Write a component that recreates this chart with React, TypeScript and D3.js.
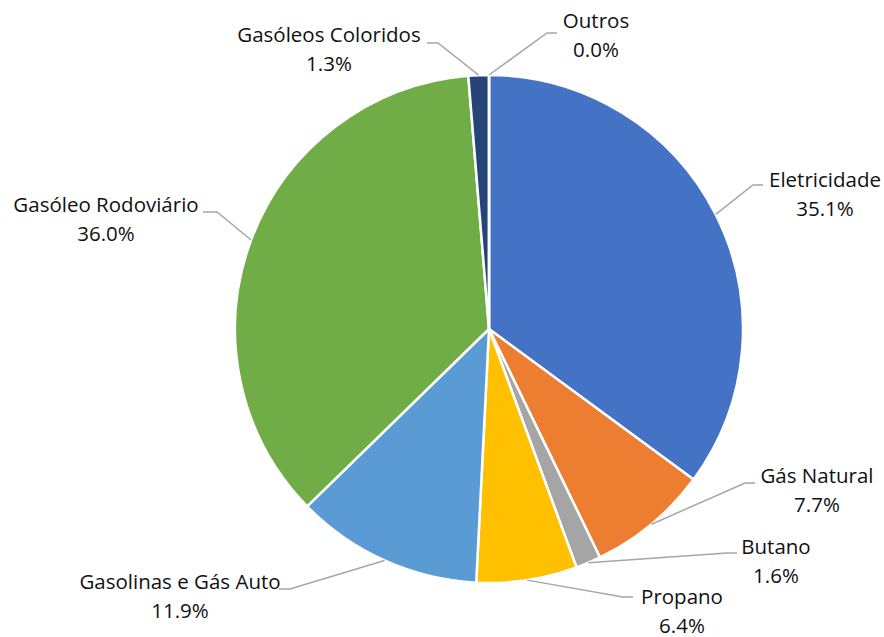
import React from 'react';
import * as d3 from 'd3';

// fuel categories and their share (%)
const categories = [
  'Eletricidade',
  'Gás Natural',
  'Butano',
  'Propano',
  'Gasolinas e Gás Auto',
  'Gasóleo Rodoviário',
  'Gasóleos Coloridos',
  'Outros',
];
const shares = [35.1, 7.7, 1.6, 6.4, 11.9, 36.0, 1.3, 0.0];
const colors = ['#4472C4', '#ED7D31', '#A5A5A5', '#FFC000', '#5B9BD5', '#70AD47', '#264478', '#9E480E'];

// label placement, relative to pie centre: text centre x, first baseline y,
// elbow x, end x, leader y
const labelLayout = [
  { tx: 336, ty: -142, ex: 264, lx: 274, ly: -144 },
  { tx: 328, ty: 154, ex: 256, lx: 266, ly: 154 },
  { tx: 287, ty: 225, ex: 238, lx: 248, ly: 224 },
  { tx: 193, ty: 275, ex: 134, lx: 144, ly: 268 },
  { tx: -309, ty: 260, ex: -199, lx: -210, ly: 260 },
  { tx: -383, ty: -117, ex: -272, lx: -286, ly: -117 },
  { tx: -160, ty: -287, ex: -51, lx: -62, ly: -286 },
  { tx: 107, ty: -301, ex: 58, lx: 68, ly: -296 },
];

const W = 884;
const H = 637;
const cx = 489;
const cy = 329;
const radius = 254;

export default function App() {
  const data = categories.map((c, i) => ({ name: c, value: shares[i], color: colors[i] }));
  const pie = d3.pie<any>().value(d => d.value).sort(null);
  const arcs = pie(data);
  const arc = d3.arc<any>().innerRadius(0).outerRadius(radius);

  return (
    <svg width={W} height={H} style={{ position: 'absolute', left: 0, top: 0, background: '#fff' }}
      fontFamily="'Open Sans', sans-serif" fontSize={20.5}>
      <g transform={`translate(${cx},${cy})`}>
        {arcs.map((a, i) => (
          <path key={i} d={arc(a) || ''} fill={a.data.color} stroke="#fff" strokeWidth={2.5} strokeLinejoin="round" />
        ))}
        {arcs.map((a, i) => {
          const mid = (a.startAngle + a.endAngle) / 2;
          const sx = radius * Math.sin(mid);
          const sy = -radius * Math.cos(mid);
          const L = labelLayout[i];
          return (
            <g key={'l' + i}>
              <polyline points={`${sx},${sy} ${L.ex},${L.ly} ${L.lx},${L.ly}`}
                fill="none" stroke="#A6A6A6" strokeWidth={1.5} />
              <text x={L.tx} y={L.ty} textAnchor="middle" fill="#111">{a.data.name}</text>
              <text x={L.tx} y={L.ty + 28.5} textAnchor="middle" fill="#111">{a.data.value.toFixed(1)}%</text>
            </g>
          );
        })}
      </g>
    </svg>
  );
}
